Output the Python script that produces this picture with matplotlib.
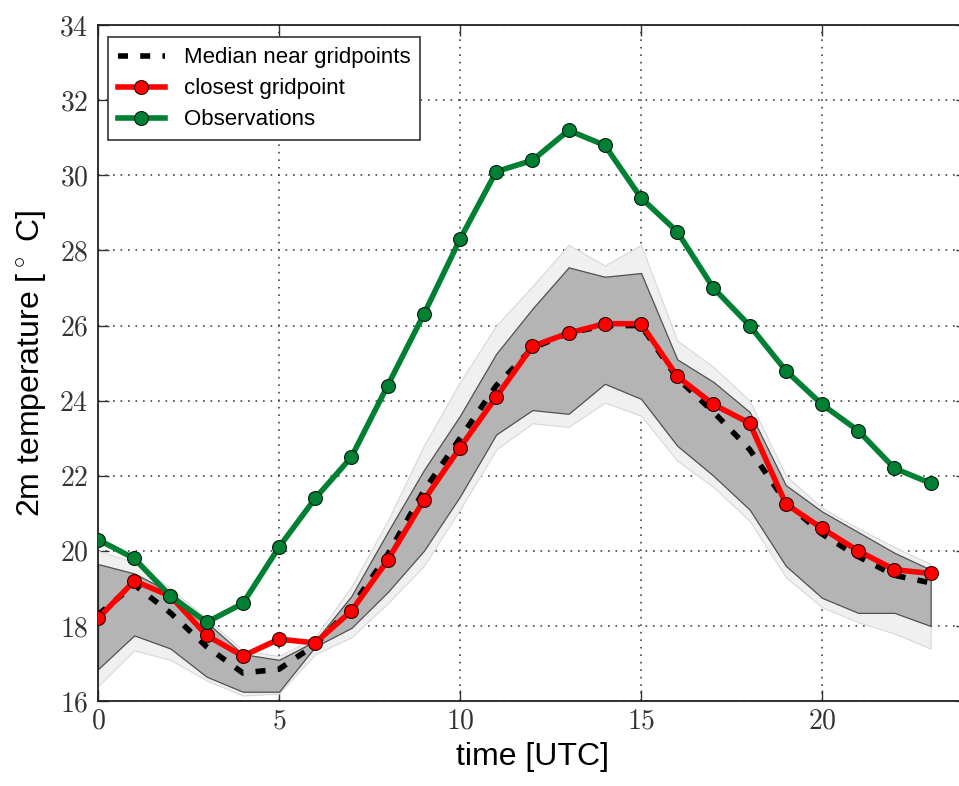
import numpy as np
import matplotlib.pyplot as plt
from matplotlib.ticker import FuncFormatter

plt.rcParams['mathtext.fontset'] = 'cm'
plt.rcParams['font.family'] = ['Liberation Sans', 'DejaVu Sans']

hours = np.arange(24)

# observed 2m temperature
obs = [20.3, 19.8, 18.8, 18.1, 18.6, 20.1, 21.4, 22.5, 24.4, 26.3, 28.3, 30.1,
       30.4, 31.2, 30.8, 29.4, 28.5, 27.0, 26.0, 24.8, 23.9, 23.2, 22.2, 21.8]
# model value at the closest gridpoint
closest = [18.2, 19.2, 18.8, 17.75, 17.2, 17.65, 17.55, 18.4, 19.75, 21.35, 22.75, 24.1,
           25.45, 25.8, 26.05, 26.05, 24.65, 23.9, 23.4, 21.25, 20.6, 20.0, 19.5, 19.4]
# median over the neighbouring gridpoints
median = [18.3, 19.1, 18.35, 17.45, 16.75, 16.85, 17.5, 18.5, 19.9, 21.6, 23.0, 24.4,
          25.4, 25.8, 26.0, 26.0, 24.6, 23.7, 22.7, 21.3, 20.45, 19.85, 19.35, 19.15]
# inner spread (dark band)
inner_lo = [16.85, 17.75, 17.4, 16.65, 16.25, 16.25, 17.45, 17.95, 18.9, 20.0, 21.45, 23.1,
            23.75, 23.65, 24.45, 24.05, 22.8, 22.0, 21.1, 19.6, 18.75, 18.35, 18.35, 18.0]
inner_hi = [19.65, 19.4, 18.9, 18.1, 17.25, 17.1, 17.6, 18.8, 20.5, 22.15, 23.6, 25.25,
            26.45, 27.55, 27.3, 27.4, 25.1, 24.5, 23.7, 21.75, 21.05, 20.5, 19.95, 19.5]
# outer spread (light band)
outer_lo = [16.4, 17.35, 17.1, 16.55, 16.15, 16.2, 17.25, 17.7, 18.6, 19.6, 21.1, 22.7,
            23.4, 23.3, 23.95, 23.6, 22.4, 21.7, 20.8, 19.3, 18.5, 18.1, 17.8, 17.4]
outer_hi = [20.0, 19.7, 19.0, 18.2, 17.35, 17.2, 17.7, 19.05, 20.8, 22.8, 24.5, 26.0,
            27.05, 28.15, 27.6, 28.15, 25.6, 24.9, 24.0, 22.0, 21.15, 20.6, 20.1, 19.65]

fig = plt.figure(figsize=(9.59, 7.86), dpi=100)
ax = fig.add_axes([0.1022, 0.108, 0.906, 0.86])

ax.fill_between(hours, outer_lo, outer_hi, facecolor='#f0f0f0',
                edgecolor='#d8d8d8', linewidth=0.8, zorder=1)
ax.fill_between(hours, inner_lo, inner_hi, facecolor='#b4b4b4',
                edgecolor='#505050', linewidth=0.9, zorder=2)

ax.plot(hours, median, '--', color='black', lw=4, dashes=(1.8, 2.2),
        label='Median near gridpoints', zorder=3)
ax.plot(hours, closest, '-o', color='#ff0000', lw=4, ms=10,
        mec='#300000', mew=0.8, label='closest gridpoint', zorder=4)
ax.plot(hours, obs, '-o', color='#008033', lw=4, ms=10,
        mec='#002010', mew=0.8, label='Observations', zorder=5)

ax.set_xlim(0, 24)
ax.set_ylim(16, 34)
ax.set_xticks([0, 5, 10, 15, 20])
ax.set_yticks(np.arange(16, 35, 2))
fmt = FuncFormatter(lambda v, pos: r'$%d$' % v)
ax.xaxis.set_major_formatter(fmt)
ax.yaxis.set_major_formatter(fmt)
ax.tick_params(direction='in', length=8, width=1, top=True, right=True,
               labelsize=20, colors='#333333')
ax.tick_params(axis='x', pad=5)
ax.tick_params(axis='y', pad=7)
ax.grid(True, linestyle=(0, (1, 3.5)), color='#444444', linewidth=1.2)
ax.set_axisbelow(True)
for sp in ax.spines.values():
    sp.set_linewidth(1.3)
    sp.set_color('#222222')

ax.set_xlabel('time [UTC]', fontsize=23, labelpad=6)
ax.set_ylabel(r'2m temperature [$^\circ$ C]', fontsize=23, labelpad=8)

leg = ax.legend(loc='upper left', fontsize=16, handlelength=2.1,
                bbox_to_anchor=(0.0115, 0.982), borderaxespad=0,
                borderpad=0.45, labelspacing=0.45, handletextpad=0.85,
                fancybox=False, framealpha=1)
leg.get_frame().set_edgecolor('#333333')
leg.get_frame().set_linewidth(1.2)

fig.savefig('out.png', dpi=100)
